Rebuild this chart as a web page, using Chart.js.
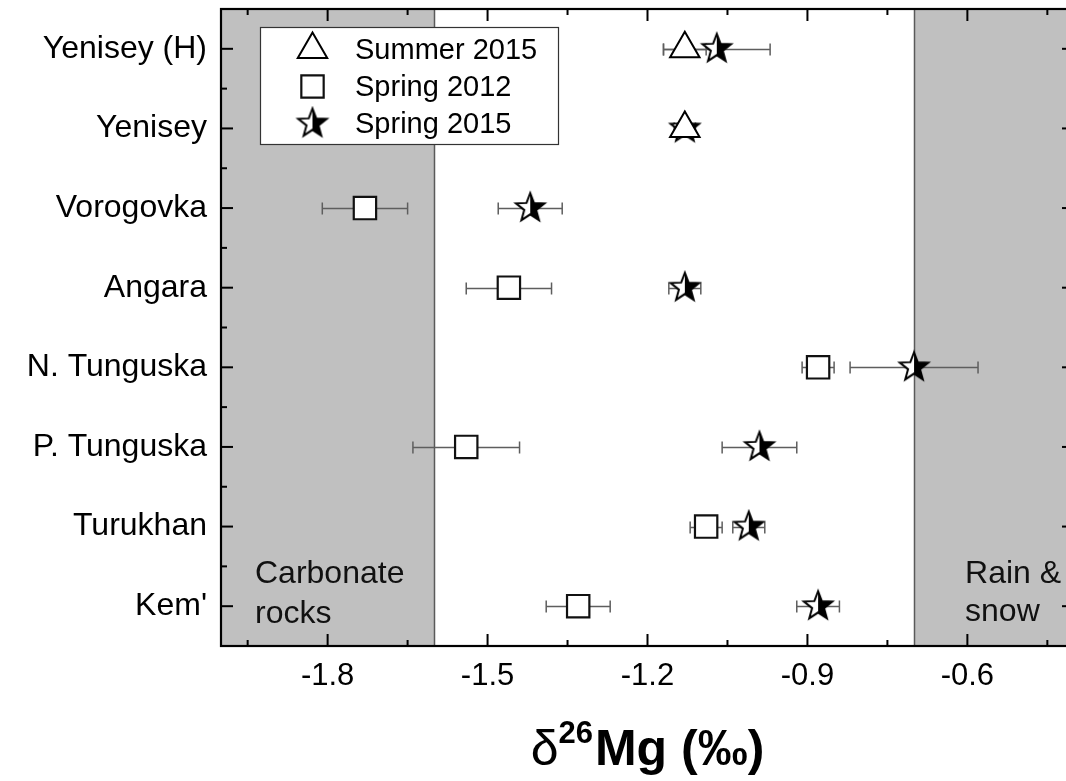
<!DOCTYPE html>
<html>
<head>
<meta charset="utf-8">
<script src="https://cdn.jsdelivr.net/npm/chart.js@4/dist/chart.umd.min.js"></script>
<style>
  html, body { margin: 0; padding: 0; overflow: hidden; background: #fff; }
  #wrap { width: 1090px; height: 781px; }
</style>
</head>
<body>
<div id="wrap"><canvas id="c" width="1090" height="781"></canvas></div>
<script>
// ---------------- data ----------------
const categories = ["Yenisey (H)", "Yenisey", "Vorogovka", "Angara", "N. Tunguska", "P. Tunguska", "Turukhan", "Kem'"];
const seriesNames = ["Summer 2015", "Spring 2012", "Spring 2015"];

const summer2015    = [-1.13, -1.13, null, null, null, null, null, null];
const summer2015Err = [0.04, 0.02, null, null, null, null, null, null];

const spring2012    = [null, null, -1.73, -1.46, -0.88, -1.54, -1.09, -1.33];
const spring2012Err = [null, null, 0.08, 0.08, 0.03, 0.10, 0.03, 0.06];

const spring2015    = [-1.07, -1.13, -1.42, -1.13, -0.70, -0.99, -1.01, -0.88];
const spring2015Err = [0.10, 0.01, 0.06, 0.03, 0.12, 0.07, 0.03, 0.04];

const xTickValues  = [-1.8, -1.5, -1.2, -0.9, -0.6];
const xMinorValues = [-1.95, -1.65, -1.35, -1.05, -0.75, -0.45];
const yMinorValues = [0.5, 1.5, 2.5, 3.5, 4.5, 5.5, 6.5];
const xRange = [-2.0, -0.4];

const carbonateRange = [-2.0, -1.6];
const rainRange = [-0.7, -0.4];
const carbonateLabel = ["Carbonate", "rocks"];
const rainLabel = ["Rain &", "snow"];
const axisTitle = { pre: "δ", sup: "26", post: "Mg (‰)" };

// ---------------- styles ----------------
const FONT = "'Liberation Sans', Arial, Helvetica, sans-serif";

function makeStar(R) {
  const size = Math.ceil(R * 2 + 6);
  const cv = document.createElement('canvas');
  cv.width = size; cv.height = size;
  const g = cv.getContext('2d');
  const cx = size / 2, cy = size / 2;
  const r = R * 0.42;
  g.beginPath();
  for (let k = 0; k < 10; k++) {
    const rad = k % 2 === 0 ? R : r;
    const ang = -Math.PI / 2 + k * Math.PI / 5;
    const px = cx + rad * Math.cos(ang), py = cy + rad * Math.sin(ang);
    if (k === 0) g.moveTo(px, py); else g.lineTo(px, py);
  }
  g.closePath();
  g.fillStyle = '#fff';
  g.fill();
  g.save();
  g.clip();
  g.fillStyle = '#000';
  g.fillRect(cx, 0, size, size);
  g.restore();
  g.lineWidth = 2;
  g.lineJoin = 'miter';
  g.strokeStyle = '#000';
  g.stroke();
  return cv;
}
const starImg = makeStar(15);

function toPoints(vals) {
  const out = [];
  vals.forEach((v, i) => { if (v !== null) out.push({ x: v, y: i }); });
  return out;
}

const errorSets = [
  { vals: summer2015, errs: summer2015Err },
  { vals: spring2012, errs: spring2012Err },
  { vals: spring2015, errs: spring2015Err }
];

// ---------------- plugin ----------------
const decorPlugin = {
  id: 'decor',
  beforeDatasetsDraw(chart) {
    const { ctx, chartArea: a, scales: { x, y } } = chart;
    ctx.save();
    [carbonateRange, rainRange].forEach(([lo, hi]) => {
      const x0 = x.getPixelForValue(lo), x1 = x.getPixelForValue(hi);
      ctx.fillStyle = '#c0c0c0';
      ctx.fillRect(x0, a.top, x1 - x0, a.bottom - a.top);
    });
    ctx.strokeStyle = '#5a5a5a';
    ctx.lineWidth = 1.5;
    [carbonateRange[1], rainRange[0]].forEach(v => {
      const px = Math.round(x.getPixelForValue(v)) + 0.5;
      ctx.beginPath(); ctx.moveTo(px, a.top); ctx.lineTo(px, a.bottom); ctx.stroke();
    });
    ctx.fillStyle = '#111';
    ctx.font = '32px ' + FONT;
    ctx.textAlign = 'left';
    ctx.textBaseline = 'alphabetic';
    const cx0 = x.getPixelForValue(carbonateRange[0]) + 34;
    ctx.fillText(carbonateLabel[0], cx0, a.bottom - 63);
    ctx.fillText(carbonateLabel[1], cx0, a.bottom - 23);
    const rx0 = x.getPixelForValue(rainRange[0]) + 51;
    ctx.fillText(rainLabel[0], rx0, a.bottom - 63);
    ctx.fillText(rainLabel[1], rx0, a.bottom - 25);
    ctx.strokeStyle = '#5e5e5e';
    ctx.lineWidth = 1.5;
    errorSets.forEach(s => {
      s.vals.forEach((v, i) => {
        if (v === null || s.errs[i] === null) return;
        const py = Math.round(y.getPixelForValue(i)) + 0.5;
        const xl = x.getPixelForValue(v - s.errs[i]);
        const xr = x.getPixelForValue(v + s.errs[i]);
        ctx.beginPath();
        ctx.moveTo(xl, py); ctx.lineTo(xr, py);
        ctx.moveTo(xl, py - 6); ctx.lineTo(xl, py + 6);
        ctx.moveTo(xr, py - 6); ctx.lineTo(xr, py + 6);
        ctx.stroke();
      });
    });
    ctx.restore();
  },
  afterDraw(chart) {
    const { ctx, chartArea: a, scales: { x, y } } = chart;
    ctx.save();
    ctx.strokeStyle = '#000';
    ctx.lineWidth = 2.2;
    ctx.strokeRect(a.left, a.top, a.right - a.left, a.bottom - a.top);
    ctx.lineWidth = 2;
    const tick = (x0, y0, x1, y1) => { ctx.beginPath(); ctx.moveTo(x0, y0); ctx.lineTo(x1, y1); ctx.stroke(); };
    xTickValues.forEach(v => {
      const px = x.getPixelForValue(v);
      tick(px, a.bottom, px, a.bottom - 12);
      tick(px, a.top, px, a.top + 12);
    });
    xMinorValues.forEach(v => {
      const px = x.getPixelForValue(v);
      tick(px, a.bottom, px, a.bottom - 6);
      tick(px, a.top, px, a.top + 6);
    });
    categories.forEach((c, i) => {
      const py = y.getPixelForValue(i);
      tick(a.left, py, a.left + 12, py);
      tick(a.right, py, a.right - 12, py);
    });
    yMinorValues.forEach(v => {
      const py = y.getPixelForValue(v);
      tick(a.left, py, a.left + 6, py);
      tick(a.right, py, a.right - 6, py);
    });

    // legend
    const bx = a.left + 39, by = a.top + 18, bw = 298, bh = 117;
    ctx.fillStyle = '#fff';
    ctx.fillRect(bx, by, bw, bh);
    ctx.strokeStyle = '#333';
    ctx.lineWidth = 1.2;
    ctx.strokeRect(bx + 0.5, by + 0.5, bw, bh);
    const rowY = [by + 22.5, by + 59.5, by + 96.5];
    ctx.font = '29px ' + FONT;
    ctx.textBaseline = 'middle';
    ctx.textAlign = 'left';
    chart.data.datasets.forEach((ds, i) => {
      ctx.save();
      ctx.fillStyle = ds.backgroundColor;
      ctx.strokeStyle = ds.borderColor;
      ctx.lineWidth = ds.borderWidth;
      Chart.helpers.drawPoint(ctx, { pointStyle: ds.pointStyle, radius: ds.pointRadius, rotation: 0, borderWidth: ds.borderWidth }, bx + 52.5, rowY[i]);
      ctx.restore();
      ctx.fillStyle = '#000';
      ctx.fillText(ds.label, bx + 95, rowY[i] + 1);
    });

    // axis title
    const baseY = 765;
    const fMain = 'bold 50px ' + FONT;
    const fDelta = '50px ' + FONT;
    const fSup = 'bold 31px ' + FONT;
    ctx.font = fDelta; const w1 = ctx.measureText(axisTitle.pre).width;
    ctx.font = fSup; const w2 = ctx.measureText(axisTitle.sup).width;
    ctx.font = fMain; const w3 = ctx.measureText(axisTitle.post).width;
    const total = w1 + w2 + w3 + 2;
    let tx = (a.left + a.right) / 2 - total / 2;
    ctx.fillStyle = '#000';
    ctx.textAlign = 'left';
    ctx.textBaseline = 'alphabetic';
    ctx.font = fDelta; ctx.fillText(axisTitle.pre, tx, baseY); tx += w1;
    ctx.font = fSup; ctx.fillText(axisTitle.sup, tx, baseY - 22); tx += w2 + 2;
    ctx.font = fMain; ctx.fillText(axisTitle.post, tx, baseY);
    ctx.restore();
  }
};

// ---------------- chart ----------------
const CANVAS_W = 1090;
new Chart(document.getElementById('c'), {
  type: 'scatter',
  data: {
    datasets: [
      { label: seriesNames[0], data: toPoints(summer2015), pointStyle: 'triangle', pointRadius: 17,
        backgroundColor: '#fff', borderColor: '#000', borderWidth: 2, showLine: false },
      { label: seriesNames[1], data: toPoints(spring2012), pointStyle: 'rect', pointRadius: 15.8,
        backgroundColor: '#fff', borderColor: '#111', borderWidth: 2.2, showLine: false },
      { label: seriesNames[2], data: toPoints(spring2015), pointStyle: starImg, pointRadius: 15,
        backgroundColor: '#fff', borderColor: '#000', borderWidth: 2, showLine: false }
    ]
  },
  options: {
    responsive: false,
    devicePixelRatio: 1,
    animation: false,
    events: [],
    layout: { autoPadding: false, padding: { left: 0, top: 9, right: CANVAS_W - 1074, bottom: 0 } },
    plugins: { legend: { display: false }, tooltip: { enabled: false }, title: { display: false } },
    scales: {
      x: {
        type: 'linear', position: 'bottom', min: xRange[0], max: xRange[1],
        grid: { display: false, drawTicks: false }, border: { display: false },
        afterBuildTicks: s => { s.ticks = xTickValues.map(v => ({ value: v })); },
        afterFit: s => { s.height = 135; s.paddingLeft = 0; s.paddingRight = 0; s.paddingTop = 0; s.paddingBottom = 0; },
        ticks: {
          autoSkip: false, maxRotation: 0, padding: 12, color: '#000',
          font: { family: FONT, size: 31 },
          callback: v => Number(v).toFixed(1)
        }
      },
      y: {
        type: 'linear', position: 'left', reverse: true, min: -0.5, max: categories.length - 0.5,
        grid: { display: false, drawTicks: false }, border: { display: false },
        afterBuildTicks: s => { s.ticks = categories.map((c, i) => ({ value: i })); },
        afterFit: s => { s.width = 221; s.paddingTop = 0; s.paddingBottom = 0; s.paddingLeft = 0; s.paddingRight = 0; },
        ticks: {
          autoSkip: false, padding: 14, color: '#000',
          font: { family: FONT, size: 32 },
          callback: v => categories[v]
        }
      }
    }
  },
  plugins: [decorPlugin]
});
</script>
</body>
</html>
